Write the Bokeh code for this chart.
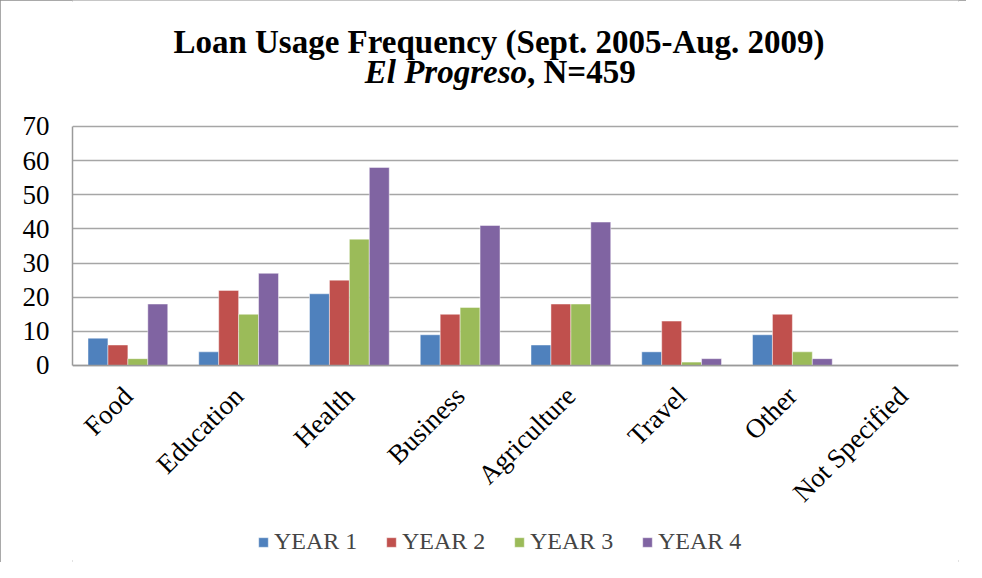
from math import pi
from bokeh.plotting import figure
from bokeh.models import (ColumnDataSource, FactorRange, Range1d, Legend,
                          LegendItem, FixedTicker, CategoricalAxis)
from bokeh.transform import dodge
from bokeh.core.properties import value
from bokeh.embed import file_html
from bokeh.resources import INLINE

categories = ["Food", "Education", "Health", "Business", "Agriculture",
              "Travel", "Other", "Not Specified"]
series_names = ["YEAR 1", "YEAR 2", "YEAR 3", "YEAR 4"]
year1 = [8, 4, 21, 9, 6, 4, 9, 0]
year2 = [6, 22, 25, 15, 18, 13, 15, 0]
year3 = [2, 15, 37, 17, 18, 1, 4, 0]
year4 = [18, 27, 58, 41, 42, 2, 2, 0]
y_ticks = [0, 10, 20, 30, 40, 50, 60, 70]
title_line1 = "Loan Usage Frequency (Sept. 2005-Aug. 2009)"
title_line2_italic = "El Progreso"
title_line2_rest = ", N=459"

colors = ["#4F81BD", "#C0504D", "#9BBB59", "#8064A2"]
FONT = "Liberation Serif"

# vertical extent of the frame (data units) so that title and legend sit inside it
Y_MIN, Y_MAX = -57.70, 106.90

source = ColumnDataSource(dict(cat=categories, y1=year1, y2=year2, y3=year3, y4=year4))

p = figure(width=966, height=562,
           x_range=FactorRange(factors=categories), y_range=Range1d(Y_MIN, Y_MAX),
           x_axis_location=None,
           output_backend="svg", toolbar_location=None,
           min_border_left=72, min_border_right=8,
           min_border_top=0, min_border_bottom=0)
p.x_range.range_padding = 0
p.styles = {"outline": "2px solid #8c8c8c", "outline-offset": "-2px"}

offsets = [-0.27, -0.09, 0.09, 0.27]
renderers = []
for col, off, c in zip(["y1", "y2", "y3", "y4"], offsets, colors):
    r = p.vbar(x=dodge("cat", off, range=p.x_range), top=col, width=0.18,
               source=source, fill_color=c, line_color="white", line_alpha=0.45,
               line_width=1)
    renderers.append(r)

# y axis
p.yaxis.ticker = FixedTicker(ticks=y_ticks)
p.yaxis.bounds = (0, 70)
p.yaxis.axis_line_color = "#9a9a9a"
p.yaxis.axis_line_width = 1.5
p.yaxis.major_tick_line_color = None
p.yaxis.major_tick_out = 0
p.yaxis.major_tick_in = 0
p.yaxis.minor_tick_line_color = None
p.yaxis.major_label_text_font = FONT
p.yaxis.major_label_text_font_size = "27px"
p.yaxis.major_label_text_color = "#000000"
p.yaxis.major_label_standoff = 23

# x axis drawn at y = 0
xaxis = CategoricalAxis(fixed_location=0)
xaxis.axis_line_color = "#9a9a9a"
xaxis.axis_line_width = 1.5
xaxis.major_tick_line_color = None
xaxis.major_tick_out = 0
xaxis.major_tick_in = 0
xaxis.minor_tick_line_color = None
xaxis.major_label_orientation = pi / 4
xaxis.major_label_text_font = FONT
xaxis.major_label_text_font_size = "27px"
xaxis.major_label_text_color = "#000000"
xaxis.major_label_standoff = 26
p.add_layout(xaxis, "below")

p.xgrid.visible = False
p.ygrid.ticker = FixedTicker(ticks=y_ticks)
p.ygrid.bounds = (0, 70)
p.ygrid.grid_line_color = "#a6a6a6"
p.ygrid.grid_line_width = 1.5
p.outline_line_color = None

# title (text glyphs inside the enlarged frame)
p.text(x=[3.851], y=[94.6], text=[title_line1], text_align="center",
       text_baseline="alphabetic", text_font=value(FONT), text_font_style="bold",
       text_font_size="33px", text_color="#000000")
p.text(x=[4.104], y=[86.1], text=[title_line2_italic], text_align="right",
       text_baseline="alphabetic", text_font=value(FONT),
       text_font_style="bold italic", text_font_size="33px", text_color="#000000")
p.text(x=[4.104], y=[86.1], text=[title_line2_rest], text_align="left",
       text_baseline="alphabetic", text_font=value(FONT), text_font_style="bold",
       text_font_size="33px", text_color="#000000")

legend = Legend(items=[LegendItem(label=n, renderers=[r]) for n, r in zip(series_names, renderers)],
                orientation="horizontal", location=(185, 7),
                glyph_width=12, glyph_height=12, label_standoff=5,
                label_width=84, spacing=27, padding=0, margin=0,
                label_text_font=FONT, label_text_font_size="24px",
                border_line_color=None, background_fill_alpha=0)
p.add_layout(legend)

open("out.html", "w").write(file_html(p, INLINE))
